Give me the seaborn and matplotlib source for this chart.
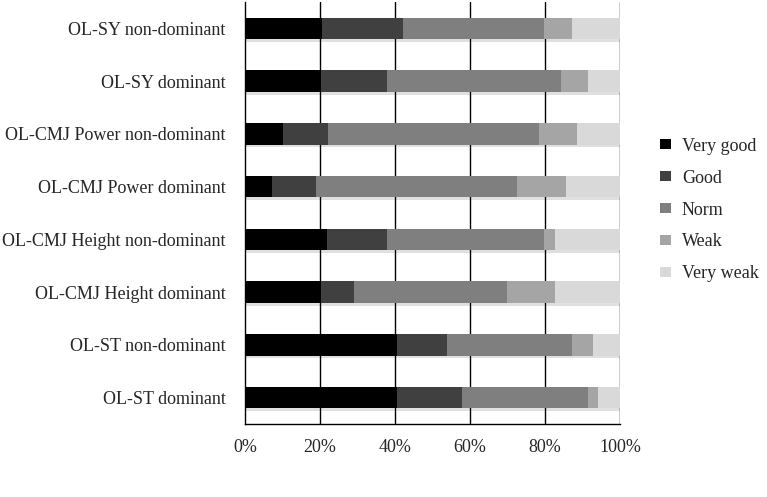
import matplotlib
matplotlib.use("Agg")
import matplotlib.pyplot as plt
import matplotlib.patheffects as pe
from matplotlib.patches import Patch
import numpy as np
import pandas as pd
import seaborn as sns

categories = [
    "OL-SY non-dominant",
    "OL-SY dominant",
    "OL-CMJ Power non-dominant",
    "OL-CMJ Power dominant",
    "OL-CMJ Height non-dominant",
    "OL-CMJ Height dominant",
    "OL-ST non-dominant",
    "OL-ST dominant",
]
levels = ["Very good", "Good", "Norm", "Weak", "Very weak"]
very_good = [20.4, 20.3, 10.2, 7.3, 21.8, 20.3, 40.6, 40.6]
good      = [21.6, 17.5, 11.8, 11.6, 16.0, 8.8, 13.2, 17.4]
norm      = [37.8, 46.4, 56.4, 53.6, 41.9, 40.7, 33.3, 33.4]
weak      = [7.3, 7.2, 10.0, 13.1, 3.0, 12.9, 5.8, 2.8]
very_weak = [12.9, 8.6, 11.6, 14.4, 17.3, 17.3, 7.1, 5.8]
colors = ["#000000", "#404040", "#7f7f7f", "#a5a5a5", "#d9d9d9"]
xticks = [0, 20, 40, 60, 80, 100]
xticklabels = ["0%", "20%", "40%", "60%", "80%", "100%"]

sns.set_style("white")
plt.rcParams["font.family"] = ["Liberation Serif", "DejaVu Serif"]

df = pd.DataFrame({"category": categories, "Very good": very_good, "Good": good,
                   "Norm": norm, "Weak": weak, "Very weak": very_weak})
cum = df[levels].cumsum(axis=1)
cum = cum.div(cum["Very weak"], axis=0) * 100

fig = plt.figure(figsize=(7.67, 4.97), dpi=100)
ax = fig.add_axes([245/767, 1-424/497, 375/767, 422/497])

shadow = [pe.SimplePatchShadow(offset=(1, -2), shadow_rgbFace="#000000", alpha=0.12), pe.Normal()]
for lvl, col in reversed(list(zip(levels, colors))):
    sns.barplot(x=cum[lvl], y=df["category"], orient="h", color=col, width=0.41,
                saturation=1, ax=ax, zorder=3)

for i, bar in enumerate(ax.patches):
    bar.set_linewidth(0)
    if i < len(categories):
        bar.set_path_effects(shadow)

ax.set_xlim(0, 100)
ax.set_ylim(len(categories) - 0.5, -0.5)
ax.set_xticks(xticks)
ax.set_xticklabels(xticklabels, fontsize=13)
ax.set_xlabel("")
ax.set_ylabel("")
ax.tick_params(axis="y", labelsize=13, length=0, pad=14)
ax.set_yticks(np.arange(-0.5, len(categories)), minor=True)
ax.tick_params(axis="y", which="minor", length=5, width=1, color="black", direction="out")
ax.tick_params(axis="x", length=5, width=1, color="black", direction="out", pad=6)
for x in xticks[1:]:
    ax.axvline(x, color="black", lw=1, zorder=1)
for s in ["top", "right"]:
    ax.spines[s].set_visible(False)
for s in ["left", "bottom"]:
    ax.spines[s].set_color("black")
    ax.spines[s].set_linewidth(1)

handles = [Patch(facecolor=c, edgecolor="none") for c in colors]
fig.legend(handles, levels, loc="center left", bbox_to_anchor=(644/767, 1-210/497),
           frameon=False, fontsize=13, handlelength=0.6, handleheight=0.45,
           handletextpad=0.6, labelspacing=0.83)

fig.savefig("out.png", dpi=100)
